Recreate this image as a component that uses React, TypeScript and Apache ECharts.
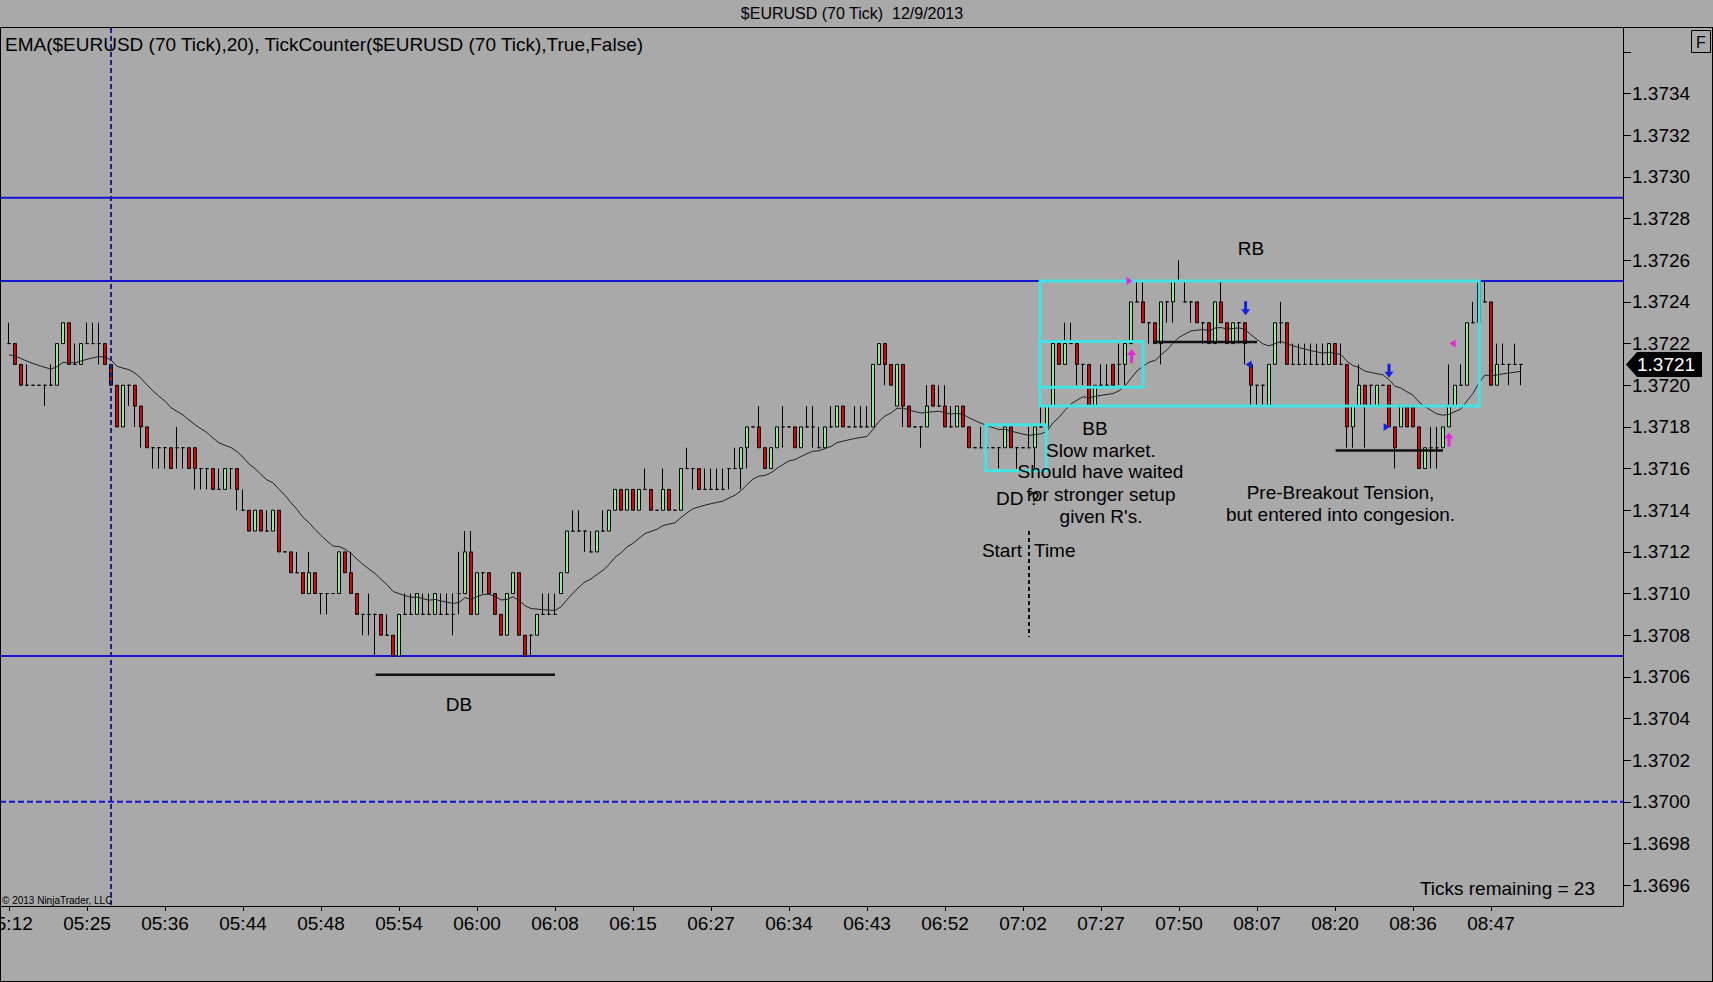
import { useEffect, useRef } from "react";
import * as echarts from "echarts";

// ---- data (prices in pips, 0.0001, above 1.3700) ----
const BASE = 1.37;
const PIP = 0.0001;

const opens = [
  22,22,21,20,20,20,20,20,20,22, 23,21,21,22,22,22,22,21,20,18,
  20,20,19,18,17,17,17,17,17,17, 17,17,16,16,16,15,15,16,16,14,
  14,13,14,13,13,14,12,12,11,11, 10,11,10,10,10,10,12,11,10,9,
  9,9,9,8,8,7,9,9,9,9, 9,9,9,9,9,10,10,12,9,11,
  11,10,9,8,10,11,8,8,8,9, 9,9,10,11,13,13,13,12,12,13,
  13,14,15,14,15,14,15,15,14,14, 15,14,14,16,16,16,15,15,15,15,
  16,16,16,17,18,18,17,16,17,18, 18,18,17,18,18,17,17,18,18,19,
  18,18,18,18,18,21,22,21,19,21, 19,18,18,18,20,19,19,18,18,19,
  18,17,17,17,17,17,17,18,17,17, 17,17,18,18,19,22,21,22,22,21,
  21,19,20,20,21,21,21,22,24,24, 23,23,22,24,24,25,24,24,24,23,
  23,22,24,23,22,23,23,21,20,20, 19,21,23,23,21,21,21,21,21,21,
  21,22,21,21,18,19,20,20,19,20, 20,18,18,19,19,18,16,17,17,17,
  18,19,20,20,23,23,24,24,20,21, 21,21,21,
];
const closes = [
  22,21,20,20,20,20,20,20,22,23, 21,21,22,22,22,22,21,20,18,20,
  20,19,18,17,17,17,17,16,17,17, 16,16,16,16,15,15,16,16,15,14,
  13,14,13,13,14,12,12,11,11,10, 11,10,10,10,10,12,11,10,9,9,
  9,9,8,8,7,9,9,9,10,9, 9,10,9,9,9,10,12,9,11,11,
  10,9,8,10,11,8,7,8,9,9, 9,9,11,13,13,13,13,12,13,13,
  14,15,14,15,14,15,15,14,14,15, 14,14,16,16,16,15,15,15,15,15,
  16,16,17,18,18,17,16,17,18,18, 18,17,18,18,18,17,18,18,19,18,
  18,18,18,18,21,22,21,20,21,19, 18,18,18,19,19,19,18,18,19,18,
  17,17,17,17,17,17,18,17,17,17, 17,18,18,19,22,21,22,22,21,21,
  19,20,20,20,20,21,22,24,24,23, 23,22,24,24,25,25,24,24,23,23,
  22,24,23,22,23,23,22,20,20,20, 21,23,23,21,21,21,21,21,21,21,
  22,21,21,18,19,20,19,20,20,20, 18,17,19,18,18,16,17,17,17,18,
  19,20,20,23,23,25,24,20,21,21, 21,21,21,
];
const highs = [
  23,22,21,21,20,20,20,21,22,23, 23,22,22,23,23,23,22,21,20,20,
  20,20,19,18,17,17,17,17,18,17, 17,17,16,16,16,16,16,16,16,15,
  14,14,14,14,14,14,12,12,12,11, 12,11,10,10,10,12,12,12,10,9,
  10,9,9,9,8,9,10,10,10,10, 10,10,10,10,10,12,13,13,11,11,
  11,10,9,10,11,11,8,8,9,10, 10,10,11,13,14,14,13,13,13,14,
  14,15,15,15,15,15,16,15,14,16, 15,14,16,17,16,16,16,16,16,16,
  16,17,17,18,18,19,17,17,18,19, 18,18,18,19,19,18,18,19,19,19,
  18,19,19,19,21,22,22,21,21,21, 19,18,18,20,20,20,20,19,19,19,
  18,17,18,17,17,17,18,18,17,17, 18,18,19,19,22,22,23,23,22,21,
  21,20,21,21,21,22,22,24,25,25, 23,23,24,24,25,26,25,24,24,23,
  23,24,25,23,23,23,23,21,20,20, 21,23,24,23,22,22,22,22,22,22,
  22,22,22,21,19,21,20,20,20,20, 20,18,19,19,19,18,17,18,18,18,
  21,20,21,23,24,25,25,24,22,22, 21,22,21,
];
const lows = [
  22,21,20,20,20,20,19,20,20,22, 21,21,21,22,22,21,21,20,18,18,
  19,18,17,17,16,16,16,16,16,16, 16,15,15,15,15,15,15,15,14,14,
  13,13,13,13,13,12,12,11,11,10, 10,10,9,9,10,10,11,10,9,8,
  8,7,8,8,7,7,9,9,9,9, 9,9,9,9,8,9,10,9,9,10,
  10,9,8,8,10,8,7,7,8,9, 9,9,10,11,13,13,12,12,12,13,
  13,14,14,14,14,14,15,14,14,14, 14,14,14,16,15,15,15,15,15,15,
  15,16,15,16,18,17,16,16,17,17, 18,17,17,18,17,17,17,18,18,18,
  18,18,18,18,18,21,20,20,19,18, 18,18,17,18,19,19,18,18,18,18,
  17,17,17,17,17,16,17,17,16,17, 17,16,18,18,19,21,21,22,20,20,
  19,19,20,20,20,20,20,22,24,23, 22,22,21,23,23,25,24,23,23,22,
  22,22,23,22,22,22,21,19,19,19, 19,21,22,21,21,21,21,21,21,21,
  21,21,21,17,17,19,17,19,19,20, 18,16,18,18,18,16,16,16,16,17,
  18,19,20,20,23,23,24,20,20,21, 20,21,20,
];

const timeLabels = [
  "05:12","05:25","05:36","05:44","05:48","05:54","06:00","06:08","06:15","06:27",
  "06:34","06:43","06:52","07:02","07:27","07:50","08:07","08:20","08:36","08:47",
];
const LABEL_STEP = 13;

const yTickLabels = [
  "1.3696","1.3698","1.3700","1.3702","1.3704","1.3706","1.3708","1.3710","1.3712","1.3714",
  "1.3716","1.3718","1.3720","1.3722","1.3724","1.3726","1.3728","1.3730","1.3732","1.3734",
];
const yTickOnly = ["1.3736"];

const solidLevels = [1.3729, 1.3725, 1.3707];
const dashedLevels = [1.37];
const markerBar = 17;
const startTimeBar = 170;
const lastPrice = 1.3721;

const EMA_PERIOD = 20;
const EMA_START = 21.4; // value carried in from bars before the first visible one

// annotation geometry in chart units: [bar from, bar to, pips top, pips bottom]
const boxes = [
  [171.85, 245.05, 25, 19],
  [171.8, 189.0, 22.1, 19.9],
  [162.8, 172.9, 18.1, 15.9],
];
// [bar from, bar to, pips]
const segments = [
  [61.1, 91.0, 6.1],
  [190.8, 208.0, 22.07],
  [221.1, 239.0, 16.87],
];
// [kind, bar, pips]
const markers: [string, number, number][] = [
  ["pinkRight", 186.75, 25.0],
  ["pinkUp", 187.1, 21.4],
  ["blueDown", 206.1, 23.7],
  ["blueLeft", 206.6, 21.0],
  ["blueDown", 230.0, 20.7],
  ["blueRight", 229.6, 18.0],
  ["pinkUp", 240.0, 17.4],
  ["pinkLeft", 240.6, 22.0],
];

const BG = "#a9a9a9";
const FONT = "Liberation Sans, Arial, sans-serif";
const UP = "#90ee90";
const DOWN = "#e00000";
const BLUE = "#1414d2";
const CYAN = "#40e4e4";
const PINK = "#f020e0";
const MBLUE = "#1020e8";

export default function App() {
  const ref = useRef<HTMLDivElement>(null);

  useEffect(() => {
    document.body.style.margin = "0";
    document.body.style.background = BG;
    const el = ref.current!;
    const chart = echarts.init(el, undefined, { renderer: "svg" });

    const nBars = opens.length;
    const nCats = 269;
    const cats = Array.from({ length: nCats }, (_, k) => "b" + k);
    const candleData = opens.map((o, i) => [
      BASE + o * PIP,
      BASE + closes[i] * PIP,
      BASE + lows[i] * PIP,
      BASE + highs[i] * PIP,
    ]);
    const a = 2 / (EMA_PERIOD + 1);
    let e = EMA_START;
    const emaData = closes.map((c) => {
      e = e + a * (c - e);
      return +(BASE + e * PIP).toFixed(7);
    });

    const isLabel = (idx: number) =>
      idx % LABEL_STEP === 0 && idx / LABEL_STEP < timeLabels.length && idx < nBars;

    const option: any = {
      animation: false,
      backgroundColor: BG,
      grid: {
        left: 6,
        top: 28,
        width: 1614,
        height: 878,
        containLabel: false,
        outerBoundsMode: "none",
      },
      xAxis: {
        type: "category",
        data: cats,
        boundaryGap: true,
        axisLine: { show: false },
        axisTick: {
          show: true,
          alignWithLabel: true,
          interval: (idx: number) => isLabel(idx),
          length: 5,
          lineStyle: { color: "#000", width: 1 },
        },
        axisLabel: {
          interval: (idx: number) => isLabel(idx),
          formatter: (_v: string, idx: number) =>
            isLabel(idx) ? timeLabels[idx / LABEL_STEP] : "",
          margin: 8,
          color: "#000",
          fontSize: 19,
          fontFamily: FONT,
        },
        splitLine: { show: false },
      },
      yAxis: {
        type: "value",
        position: "right",
        offset: 3,
        min: 1.3695,
        max: 1.373715,
        axisLine: { show: true, lineStyle: { color: "#000", width: 1 } },
        axisTick: {
          show: true,
          length: 8,
          customValues: [...yTickLabels, ...yTickOnly].map(Number),
          lineStyle: { color: "#000" },
        },
        axisLabel: {
          customValues: yTickLabels.map(Number),
          formatter: (v: number) => v.toFixed(4),
          margin: 9,
          color: "#000",
          fontSize: 19,
          fontFamily: FONT,
        },
        splitLine: { show: false },
      },
      series: [
        {
          type: "candlestick",
          data: candleData,
          barWidth: 4,
          z: 2,
          itemStyle: {
            color: UP,
            color0: DOWN,
            borderColor: "#000",
            borderColor0: "#000",
            borderColorDoji: "#000",
            borderWidth: 1,
          },
        },
        {
          type: "line",
          data: emaData,
          symbol: "none",
          smooth: false,
          z: 3,
          lineStyle: { color: "#222", width: 1 },
        },
      ],
    };
    chart.setOption(option);

    const p0 = chart.convertToPixel({ gridIndex: 0 }, [0, 1.37]) as number[];
    const p1 = chart.convertToPixel({ gridIndex: 0 }, [1, 1.37]) as number[];
    const band = p1[0] - p0[0];
    const xb = (bar: number) => p0[0] + bar * band;
    const yp = (price: number) =>
      (chart.convertToPixel({ gridIndex: 0 }, [0, price]) as number[])[1];
    const yl = (pips: number) => yp(BASE + pips * PIP);

    const PLOT_L = 0;
    const PLOT_R = 1623;
    const PLOT_T = 28;
    const PLOT_B = 906;

    const els: any[] = [];
    // frame
    const frameLine = (x1: number, y1: number, x2: number, y2: number) =>
      els.push({ type: "line", silent: true, z: 60, shape: { x1, y1, x2, y2 }, style: { stroke: "#000", lineWidth: 1 } });
    frameLine(0, 27.5, 1713, 27.5);
    frameLine(0.5, 27, 0.5, 982);
    frameLine(1712.5, 27, 1712.5, 982);
    frameLine(0, 981.5, 1713, 981.5);
    frameLine(PLOT_L, PLOT_B + 0.5, PLOT_R, PLOT_B + 0.5);

    solidLevels.forEach((lv) => {
      const y = yp(lv);
      els.push({ type: "line", silent: true, z: 1, shape: { x1: PLOT_L, y1: y, x2: PLOT_R, y2: y }, style: { stroke: BLUE, lineWidth: 2 } });
    });
    dashedLevels.forEach((lv) => {
      const y = yp(lv);
      els.push({ type: "line", silent: true, z: 1, shape: { x1: PLOT_L, y1: y, x2: PLOT_R, y2: y }, style: { stroke: BLUE, lineWidth: 2, lineDash: [6, 3] } });
    });
    {
      const x = xb(markerBar);
      els.push({ type: "line", silent: true, z: 40, shape: { x1: x, y1: PLOT_T, x2: x, y2: PLOT_B }, style: { stroke: "#20208c", lineWidth: 2, lineDash: [5, 3] } });
    }
    {
      const x = xb(startTimeBar);
      els.push({ type: "line", silent: true, z: 40, shape: { x1: x, y1: 531, x2: x, y2: 637 }, style: { stroke: "#111", lineWidth: 2, lineDash: [4, 3] } });
    }
    boxes.forEach(([b0, b1, t, b]) => {
      const x0 = xb(b0), x1 = xb(b1), y0 = yl(t), y1 = yl(b);
      els.push({ type: "rect", silent: true, z: 45, shape: { x: x0, y: y0, width: x1 - x0, height: y1 - y0 }, style: { fill: "none", stroke: CYAN, lineWidth: 3 } });
    });
    segments.forEach(([b0, b1, lv]) => {
      const y = yl(lv);
      els.push({ type: "line", silent: true, z: 45, shape: { x1: xb(b0), y1: y, x2: xb(b1), y2: y }, style: { stroke: "#111", lineWidth: 2.5 } });
    });
    const shapes: Record<string, number[][]> = {
      down: [[-1.5, -7], [1.5, -7], [1.5, 1], [4.5, 1], [0, 7], [-4.5, 1], [-1.5, 1]],
      up: [[-1.5, 7], [1.5, 7], [1.5, -1], [4.5, -1], [0, -7], [-4.5, -1], [-1.5, -1]],
      right: [[-3, -4], [3, 0], [-3, 4]],
      left: [[3, -4], [-3, 0], [3, 4]],
    };
    markers.forEach(([kind, bar, lv]) => {
      const cx = xb(bar), cy = yl(lv);
      const color = kind.startsWith("pink") ? PINK : MBLUE;
      const dir = kind.replace("pink", "").replace("blue", "").toLowerCase();
      els.push({ type: "polygon", silent: true, z: 50, shape: { points: shapes[dir].map(([dx, dy]) => [cx + dx, cy + dy]) }, style: { fill: color } });
    });
    // last price tag
    {
      const y = yp(lastPrice);
      els.push({ type: "polygon", silent: true, z: 55, shape: { points: [[1626, y], [1637, y - 12.5], [1702, y - 12.5], [1702, y + 12.5], [1637, y + 12.5]] }, style: { fill: "#000" } });
      els.push({ type: "text", silent: true, z: 56, x: 1637, y: y + 0.5, style: { text: lastPrice.toFixed(4), fill: "#fff", fontSize: 19, fontFamily: FONT, textAlign: "left", textVerticalAlign: "middle" } });
    }
    const txt = (text: string, x: number, y: number, align = "center", size = 19) =>
      els.push({ type: "text", silent: true, z: 58, x, y, style: { text, fill: "#000", fontSize: size, fontFamily: FONT, textAlign: align, textVerticalAlign: "middle" } });
    txt("$EURUSD (70 Tick)\u00a0\u00a012/9/2013", 852, 13, "center", 16);
    txt("EMA($EURUSD (70 Tick),20), TickCounter($EURUSD (70 Tick),True,False)", 5, 44, "left", 19);
    els.push({ type: "rect", silent: true, z: 58, shape: { x: 1691.5, y: 30.5, width: 19, height: 22 }, style: { fill: "none", stroke: "#000", lineWidth: 1 } });
    txt("F", 1701, 42, "center", 16);
    txt("Ticks remaining = 23", 1595, 888, "right", 19);
    txt("\u00a9 2013 NinjaTrader, LLC", 2, 900, "left", 10);
    txt("RB", 1251, 248);
    txt("BB", 1095, 428);
    txt("Slow market.", 1101, 450);
    txt("Should have waited", 1100.5, 471);
    txt("for stronger setup", 1101, 494);
    txt("given R's.", 1101, 516);
    txt("DD ?", 996, 498.5, "left");
    txt("Start", 1022, 550, "right");
    txt("Time", 1034, 550, "left");
    txt("Pre-Breakout Tension,", 1340.5, 492.7);
    txt("but entered into congesion.", 1340.5, 514.6);
    txt("DB", 459, 704.7);

    chart.setOption({ graphic: { elements: els } });

    return () => chart.dispose();
  }, []);

  return <div ref={ref} style={{ width: 1713, height: 982, background: BG }} />;
}
